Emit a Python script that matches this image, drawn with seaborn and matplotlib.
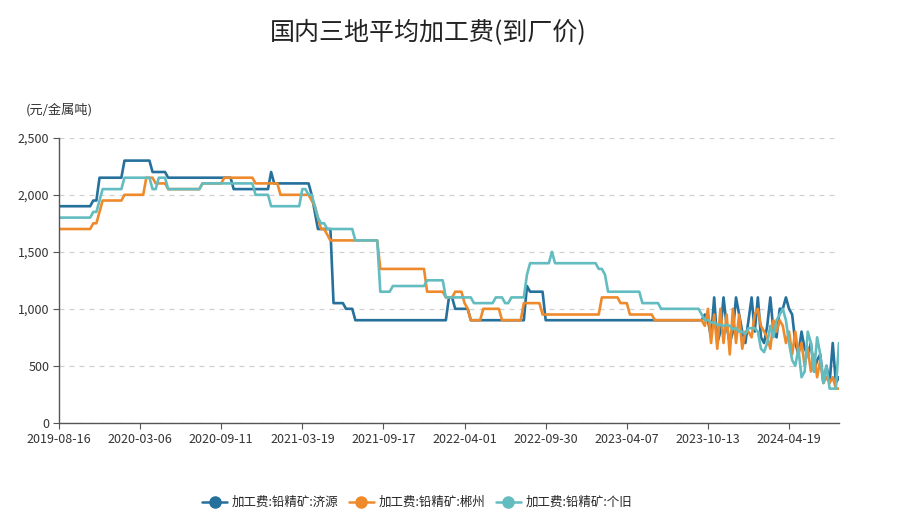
import numpy as np
import pandas as pd
import matplotlib
matplotlib.use("Agg")
import matplotlib.pyplot as plt
import seaborn as sns
from matplotlib.ticker import FuncFormatter

# ---------------- data ----------------
series_names = ["加工费:铅精矿:济源", "加工费:铅精矿:郴州", "加工费:铅精矿:个旧"]

tick_labels = ["2019-08-16", "2020-03-06", "2020-09-11", "2021-03-19", "2021-09-17",
               "2022-04-01", "2022-09-30", "2023-04-07", "2023-10-13", "2024-04-19"]

jiyuan = ([1900] * 11 + [1950] * 2 + [2150] * 8 + [2300] * 9 + [2200] * 5 +
          [2150] * 21 + [2050] * 12 + [2200] + [2100] * 12 + [2000, 1850] +
          [1700] * 5 + [1050] * 4 + [1000] * 3 + [900] * 30 + [1100] * 2 +
          [1000] * 5 + [900] * 18 + [1200] + [1150] * 5 + [900] * 50 +
          [900, 950, 900, 750, 1100, 700, 800, 1100, 850, 700,
           800, 1100, 950, 800, 700, 900, 1100, 800, 1100, 750,
           700, 850, 1100, 800, 750, 1000, 1000, 1100, 1000, 950,
           700, 600, 800, 650, 600, 700, 450, 550, 600, 350,
           500, 350, 700, 350, 400])

chenzhou = ([1700] * 11 + [1750] * 2 + [1850] + [1950] * 7 + [2000] * 7 +
            [2150] * 3 + [2100] * 4 + [2050] * 11 + [2100] * 7 + [2150] * 10 +
            [2100] * 8 + [2000] * 10 + [1950, 1900, 1800] + [1700] * 2 + [1650] +
            [1600] * 16 + [1350] * 15 + [1150] * 6 + [1100] * 3 + [1150] * 3 +
            [1050, 1000] + [900] * 4 + [1000] * 6 + [900] * 7 + [1050] * 6 +
            [950] * 19 + [1100] * 6 + [1050] * 3 + [950] * 8 + [900] * 15 +
            [900, 850, 1000, 700, 950, 650, 1000, 700, 950, 600,
             1000, 700, 950, 650, 800, 800, 750, 950, 1000, 850,
             800, 750, 650, 900, 800, 900, 850, 700, 800, 600,
             800, 600, 700, 500, 650, 450, 600, 400, 550, 350,
             400, 350, 400, 300, 300])

gejiu = ([1800] * 11 + [1850] * 2 + [1950] + [2050] * 7 + [2150] * 9 +
         [2050] * 2 + [2150] * 3 + [2050] * 11 + [2100] * 17 + [2000] * 5 +
         [1900] * 10 + [2050] * 2 + [2000] * 2 + [1900, 1800] + [1750] * 2 +
         [1700] * 9 + [1600] * 8 + [1150] * 4 + [1200] * 11 + [1250] * 6 +
         [1100] * 9 + [1050] * 7 + [1100] * 3 + [1050] * 2 + [1100] * 5 +
         [1300] + [1400] * 7 + [1500] + [1400] * 14 + [1350] * 2 + [1300] +
         [1150] * 11 + [1050] * 6 + [1000] * 13 +
         [950, 900, 900, 880, 880, 860, 860, 850, 860, 850,
          820, 830, 800, 800, 780, 830, 830, 830, 800, 650,
          620, 700, 850, 750, 900, 950, 1000, 900, 700, 550,
          500, 650, 400, 450, 800, 700, 450, 750, 600, 350,
          500, 300, 300, 300, 700])

colors = ["#26709c", "#ee8a2b", "#63bcc0"]

# ---------------- build long table ----------------
n = len(jiyuan)
df = pd.concat([
    pd.DataFrame({"idx": np.arange(n), "value": vals, "series": name})
    for name, vals in zip(series_names, [jiyuan, chenzhou, gejiu])
])

sns.set_theme(style="white")
plt.rcParams["font.family"] = ["Noto Sans CJK SC", "DejaVu Sans"]

fig = plt.figure(figsize=(9.07, 5.22), dpi=100)
ax = fig.add_axes([0.065, 0.19, 0.86, 0.546])

sns.lineplot(data=df, x="idx", y="value", hue="series", hue_order=series_names,
             palette=colors, linewidth=1.9, ax=ax, legend=False)

ax.set_xlim(0, n - 1)
ax.set_ylim(0, 2500)
ax.set_yticks([0, 500, 1000, 1500, 2000, 2500])
ax.yaxis.set_major_formatter(FuncFormatter(lambda v, p: f"{int(v):,}"))
ax.set_xticks(np.arange(len(tick_labels)) * 26)
ax.set_xticklabels(tick_labels)
ax.set_xlabel("")
ax.set_ylabel("")

ax.grid(axis="y", linestyle=(0, (4, 4)), color="#d0d0d0", linewidth=0.9)
ax.grid(axis="x", visible=False)
for s in ["top", "right"]:
    ax.spines[s].set_visible(False)
for s in ["left", "bottom"]:
    ax.spines[s].set_color("#555555")
    ax.spines[s].set_linewidth(1.0)
ax.tick_params(axis="both", which="major", direction="out", length=4, width=0.8,
               color="#555555", labelsize=9, labelcolor="#333333", pad=3,
               left=True, bottom=True)

fig.suptitle("国内三地平均加工费(到厂价)", x=0.472, y=0.962, fontsize=18, color="#222222")
fig.text(0.028, 0.783, "(元/金属吨)", fontsize=9.5, color="#333333")

handles = [plt.Line2D([0], [0], color=c, lw=1.8, marker="o", markersize=8,
                      markerfacecolor=c, markeredgecolor=c) for c in colors]
fig.legend(handles, series_names, loc="center", bbox_to_anchor=(0.46, 0.037),
           ncol=3, frameon=False, fontsize=9, handlelength=2.0, columnspacing=0.8,
           handletextpad=0.4)

fig.savefig("out.png", dpi=100)
